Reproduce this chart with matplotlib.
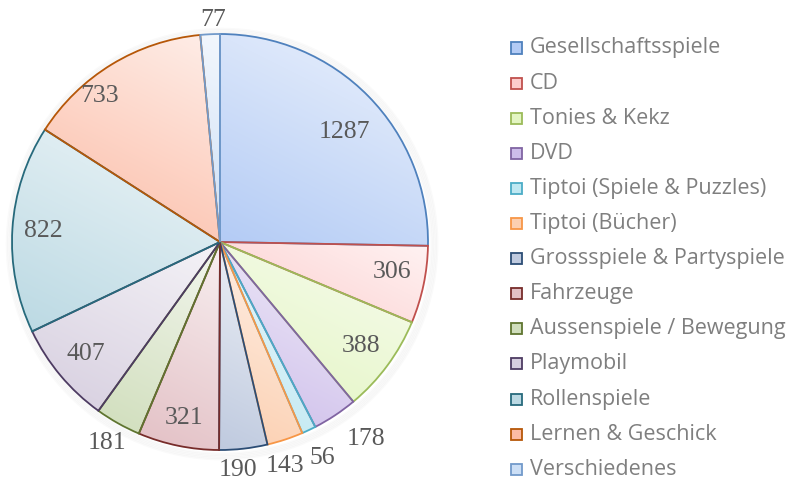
import numpy as np
import matplotlib
matplotlib.use('Agg')
import matplotlib.pyplot as plt
from matplotlib.colors import to_rgb
from matplotlib.patches import Circle, Rectangle

# ── Data ──────────────────────────────────────────────────────────────────────
categories = ['Gesellschaftsspiele', 'CD', 'Tonies & Kekz', 'DVD',
              'Tiptoi (Spiele & Puzzles)', 'Tiptoi (Bücher)',
              'Grossspiele & Partyspiele', 'Fahrzeuge',
              'Aussenspiele / Bewegung', 'Playmobil', 'Rollenspiele',
              'Lernen & Geschick', 'Verschiedenes']
values = [1287, 306, 388, 178, 56, 143, 190, 321, 181, 407, 822, 733, 77]

# ── Style ─────────────────────────────────────────────────────────────────────
edge_colors = ['#4F81BD', '#C0504D', '#9BBB59', '#8064A2', '#4BACC6', '#F79646',
               '#2C4D75', '#772C2A', '#5F7530', '#4D3B62', '#276A7C', '#B65708',
               '#729ACA']
fill_dark = ['#B3CBF5', '#FDCDCD', '#E3F5C2', '#CDBDEA', '#BFE8F2', '#FCCFB0',
             '#BFCADF', '#E3C0C5', '#D0DEBC', '#D6CEDF', '#BBD9E3', '#FCBBA5',
             '#CCDFF6']
# radial position of each value label (1 = pie edge), and angle tweak (deg)
label_r = [0.80, 0.84, 0.84, 1.18, 1.15, 1.12, 1.10, 0.865, 1.11, 0.84, 0.85, 0.91, 1.07]
label_da = [-3, 2, 0, 3, 0, -2, -2, 0, 0, 0, 0, 8, -1]

W, H = 795, 484
CX, CY, R = 220, 242, 208          # pie centre / radius in pixels

fig = plt.figure(figsize=(W / 100, H / 100), dpi=100)
ax = fig.add_axes([0, 0, 1, 1])

def px(x, y):
    """pixel (from top-left) -> data coords (pie radius = 1)"""
    return (x - CX) / R, (CY - y) / R

# soft shadow
for k in range(5):
    ax.add_patch(Circle((0.01, -0.01), 1.0 + 0.007 * (k + 1), facecolor='none',
                        edgecolor='#000000', lw=1.6, alpha=0.018, zorder=0))

wedges, _ = ax.pie(values, startangle=90, counterclock=False, radius=1.0,
                   wedgeprops=dict(linewidth=1.3, facecolor='none'))

# gradient fill per wedge (dark lower-left -> light upper-right)
d = np.array([0.45, 0.89])
for w, ec, fc in zip(wedges, edge_colors, fill_dark):
    w.set_edgecolor(ec)
    w.set_zorder(3)
    ext = w.get_path().get_extents()
    x0, y0, x1, y1 = ext.x0, ext.y0, ext.x1, ext.y1
    xs = np.linspace(x0, x1, 80)
    ys = np.linspace(y0, y1, 80)
    X, Y = np.meshgrid(xs, ys)
    t = (X - x0) * d[0] + (Y - y0) * d[1]
    t = (t - t.min()) / max(t.max() - t.min(), 1e-9)
    dark = np.array(to_rgb(fc))
    light = 0.25 * dark + 0.75 * np.ones(3)
    img = dark[None, None, :] * (1 - t[..., None]) + light[None, None, :] * t[..., None]
    im = ax.imshow(img, extent=[x0, x1, y0, y1], origin='lower',
                   interpolation='bilinear', zorder=2, aspect='auto')
    im.set_clip_path(w)

# value labels
for w, v, r, da in zip(wedges, values, label_r, label_da):
    ang = np.deg2rad(0.5 * (w.theta1 + w.theta2) + da)
    ax.text(r * np.cos(ang), r * np.sin(ang), str(v), ha='center', va='center',
            fontsize=18.5, family='Liberation Serif', color='#595959', zorder=5)

# legend
step = 35.1
for i, (lab, ec, fc) in enumerate(zip(categories, edge_colors, fill_dark)):
    yc = 48 + i * step
    sx, sy = px(511, yc + 5.5)
    ax.add_patch(Rectangle((sx, sy), 11 / R, 11 / R, facecolor=fc,
                           edgecolor=ec, lw=1.3, zorder=5))
    tx, ty = px(530, yc)
    ax.text(tx, ty, lab, ha='left', va='center', fontsize=15.5,
            family='Open Sans', color='#7F7F7F', zorder=5)

ax.set_xlim(-CX / R, (W - CX) / R)
ax.set_ylim(-(H - CY) / R, CY / R)
ax.set_aspect('auto')
ax.axis('off')

fig.savefig('out.png', dpi=100)
